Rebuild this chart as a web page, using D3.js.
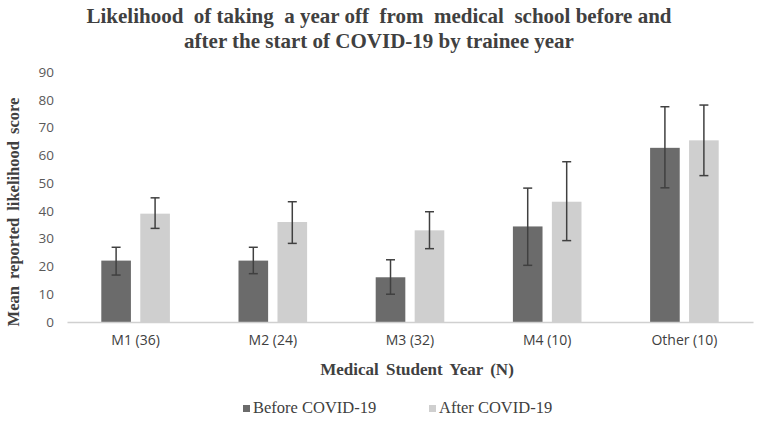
<!DOCTYPE html>
<html><head><meta charset="utf-8">
<script src="https://cdn.jsdelivr.net/npm/d3@7"></script>
<style>body{margin:0;background:#fff}</style>
</head><body>
<svg id="chart" width="759" height="429"></svg>
<script>
const categories = ["M1 (36)", "M2 (24)", "M3 (32)", "M4 (10)", "Other (10)"];
const seriesNames = ["Before COVID-19", "After COVID-19"];
const beforeMean = [22.1, 22.1, 16.1, 34.4, 62.7];
const beforeLow  = [16.9, 17.4, 10.0, 20.4, 48.3];
const beforeHigh = [26.9, 26.9, 22.4, 48.2, 77.5];
const afterMean  = [39.0, 36.0, 33.0, 43.3, 65.4];
const afterLow   = [33.7, 28.3, 26.4, 29.3, 52.7];
const afterHigh  = [44.7, 43.3, 39.7, 57.7, 78.1];
const yTicks = [0, 10, 20, 30, 40, 50, 60, 70, 80, 90];
const colors = ["#6b6b6b", "#cfcfcf"];

const svg = d3.select("#chart");
const x0 = d3.scaleBand().domain(categories).range([67, 753]).paddingInner(0.5).paddingOuter(0.25);
const x1 = d3.scaleBand().domain(seriesNames).range([0, x0.bandwidth()]).paddingInner(0.24);
const y = d3.scaleLinear().domain([0, 90]).range([322, 72]);

const rows = [];
categories.forEach((c, i) => {
  rows.push({cat: c, s: seriesNames[0], v: beforeMean[i], lo: beforeLow[i], hi: beforeHigh[i], col: colors[0]});
  rows.push({cat: c, s: seriesNames[1], v: afterMean[i], lo: afterLow[i], hi: afterHigh[i], col: colors[1]});
});

const sans = "Open Sans, Liberation Sans, sans-serif";
// y axis (labels only)
const yAxis = d3.axisLeft(y).tickValues(yTicks).tickSize(0).tickPadding(0);
const gy = svg.append("g").attr("transform", "translate(54,0)").call(yAxis);
gy.select(".domain").remove();
gy.selectAll("text").attr("font-family", sans).attr("font-size", 13.5).attr("fill", "#595959");

// bars
svg.append("g").selectAll("rect").data(rows).join("rect")
  .attr("x", d => x0(d.cat) + x1(d.s))
  .attr("width", x1.bandwidth())
  .attr("y", d => y(d.v))
  .attr("height", d => y(0) - y(d.v))
  .attr("fill", d => d.col);

// baseline / x axis
const xAxis = d3.axisBottom(x0).tickSize(0).tickPadding(13);
const gx = svg.append("g").attr("transform", `translate(0,${y(0)})`).call(xAxis);
gx.select(".domain").attr("stroke", "#d0d0d0").attr("stroke-width", 1.5);
gx.selectAll("text").attr("font-family", sans).attr("font-size", 14).attr("fill", "#404040");

// error bars
const eg = svg.append("g").attr("stroke", "#404040").attr("stroke-width", 1.5);
rows.forEach(d => {
  const cx = x0(d.cat) + x1(d.s) + x1.bandwidth() / 2;
  eg.append("line").attr("x1", cx).attr("x2", cx).attr("y1", y(d.lo)).attr("y2", y(d.hi));
  eg.append("line").attr("x1", cx - 4.5).attr("x2", cx + 4.5).attr("y1", y(d.lo)).attr("y2", y(d.lo));
  eg.append("line").attr("x1", cx - 4.5).attr("x2", cx + 4.5).attr("y1", y(d.hi)).attr("y2", y(d.hi));
});

// title
const serif = "Liberation Serif, Times New Roman, serif";
const title = svg.append("text").attr("x", 379).attr("font-family", serif).attr("font-weight", "bold")
  .attr("font-size", 21).attr("fill", "#404040").attr("text-anchor", "middle")
  .attr("xml:space", "preserve").style("white-space", "pre");
title.append("tspan").attr("x", 379).attr("y", 23).text("Likelihood  of taking  a year off  from  medical  school before and");
title.append("tspan").attr("x", 379).attr("y", 48).text("after the start of COVID-19 by trainee year");

// axis titles
svg.append("text").attr("transform", "translate(19,212) rotate(-90)").attr("text-anchor", "middle")
  .attr("font-family", serif).attr("font-weight", "bold").attr("font-size", 16.5).attr("fill", "#404040")
  .style("word-spacing", "3px").text("Mean reported likelihood score");
svg.append("text").attr("x", 417).attr("y", 375).attr("text-anchor", "middle")
  .attr("font-family", serif).attr("font-weight", "bold").attr("font-size", 17).attr("fill", "#404040")
  .style("word-spacing", "3px").text("Medical Student Year (N)");

// legend
const legX = [243, 429];
seriesNames.forEach((s, i) => {
  svg.append("rect").attr("x", legX[i]).attr("y", 405).attr("width", 7).attr("height", 7).attr("fill", colors[i]);
  svg.append("text").attr("x", legX[i] + 10).attr("y", 413).attr("font-family", serif)
    .attr("font-size", 16.5).attr("fill", "#404040").text(s);
});
</script>
</body></html>
